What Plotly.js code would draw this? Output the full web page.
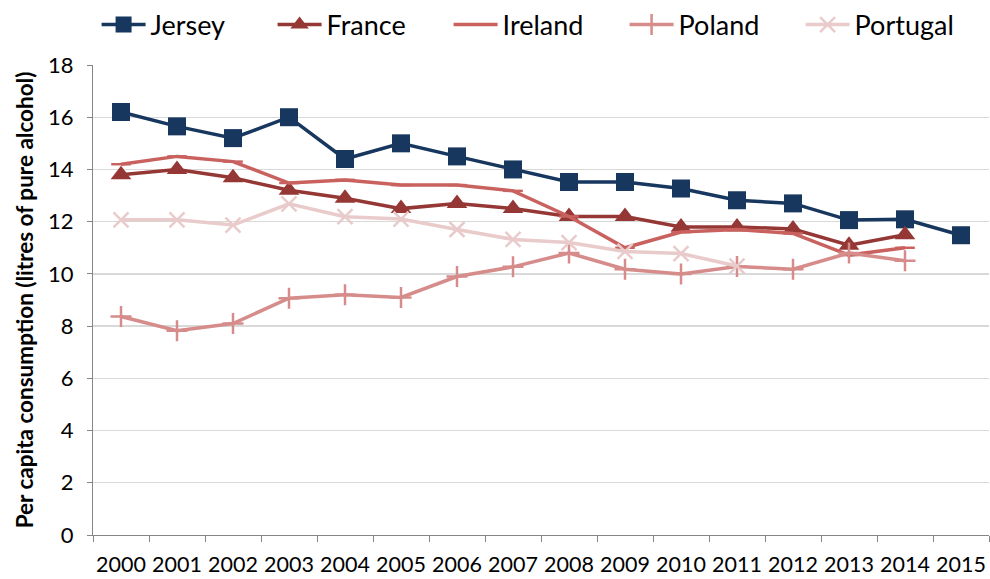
<!DOCTYPE html>
<html>
<head>
<meta charset="utf-8">
<script src="https://cdn.plot.ly/plotly-3.0.1.min.js"></script>
<style>html,body{margin:0;padding:0;background:#fff;}#chart{width:990px;height:579px;}</style>
</head>
<body>
<div id="chart"></div>
<script>
const years = ["2000","2001","2002","2003","2004","2005","2006","2007","2008","2009","2010","2011","2012","2013","2014","2015"];
const jersey   = [16.2, 15.65, 15.2, 16.0, 14.4, 15.0, 14.5, 14.0, 13.52, 13.52, 13.27, 12.82, 12.7, 12.06, 12.09, 11.48];
const france   = [13.8, 14.0, 13.68, 13.2, 12.9, 12.5, 12.7, 12.5, 12.2, 12.2, 11.8, 11.8, 11.72, 11.1, 11.5, null];
const ireland  = [14.2, 14.5, 14.3, 13.48, 13.6, 13.4, 13.4, 13.18, 12.2, 11.0, 11.6, 11.7, 11.55, 10.72, 11.0, null];
const poland   = [8.37, 7.82, 8.1, 9.07, 9.2, 9.1, 9.9, 10.27, 10.8, 10.18, 10.0, 10.28, 10.18, 10.8, 10.5, null];
const portugal = [12.07, 12.07, 11.87, 12.68, 12.19, 12.1, 11.7, 11.32, 11.2, 10.86, 10.78, 10.3, null, null, null, null];

const names = ["Jersey","France","Ireland","Poland","Portugal"];
const series = [jersey, france, ireland, poland, portugal];
const colors = ["#17375E","#953735","#C9625F","#D68C8A","#E8CBCA"];
const symbols = ["square","triangle-up","line-ew","cross-thin","x-thin"];
const sizes = [18, 18, 14, 15, 15];

const traces = series.map((s, i) => ({
  x: years, y: s, name: names[i], type: "scatter", mode: "lines+markers",
  line: {color: colors[i], width: 3.5},
  marker: {symbol: symbols[i], size: sizes[i], color: colors[i],
           line: {color: colors[i], width: (i >= 2 ? 2.5 : 0)}},
  connectgaps: false
}));

const layout = {
  width: 990, height: 579,
  margin: {l: 93, r: 1, t: 63, b: 44},
  paper_bgcolor: "#fff", plot_bgcolor: "#fff",
  font: {family: "Lato, 'Open Sans', sans-serif", color: "#000"},
  showlegend: true,
  legend: {orientation: "h", x: 0.004, xanchor: "left", y: 1.085, yanchor: "middle",
           font: {size: 27, color: "#000"}, entrywidth: 117, itemwidth: 44, traceorder: "normal"},
  xaxis: {
    type: "category", tickson: "boundaries", ticks: "outside", ticklen: 6, tickcolor: "#868686",
    showline: true, linecolor: "#868686", linewidth: 1, showgrid: false, tickangle: 0,
    tickfont: {size: 21.5, color: "#000"}, ticklabelstandoff: 10,
    range: [-0.5, 15.5], fixedrange: true
  },
  yaxis: {
    range: [0, 18], dtick: 2, ticks: "outside", ticklen: 5, tickcolor: "#868686",
    showline: true, linecolor: "#868686", linewidth: 1,
    showgrid: true, gridcolor: "#D9D9D9", gridwidth: 1.3, zeroline: false,
    tickfont: {size: 22, color: "#000"}, ticklabelstandoff: 9,
    title: {text: "<b>Per capita consumption (litres of pure alcohol)</b>", font: {size: 22.5, color: "#000"}, standoff: 8}
  }
};

Plotly.newPlot("chart", traces, layout, {displayModeBar: false, staticPlot: true});
</script>
</body>
</html>
